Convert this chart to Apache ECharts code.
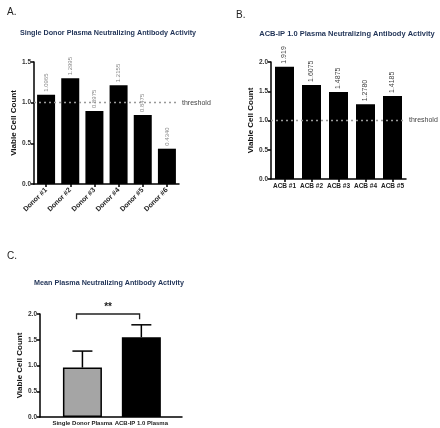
<!DOCTYPE html>
<html><head><meta charset="utf-8">
<script src="https://cdn.jsdelivr.net/npm/echarts@6/dist/echarts.min.js"></script>
<style>html,body{margin:0;padding:0;background:#fff}#c{width:440px;height:428px}</style>
</head><body><div id="c"></div>
<script>
// ---- data ----
const donorCats = ['Donor #1','Donor #2','Donor #3','Donor #4','Donor #5','Donor #6'];
const donorVals = [1.0965, 1.2995, 0.8975, 1.2155, 0.8475, 0.4340];
const donorLabels = ['1.0965','1.2995','0.8975','1.2155','0.8475','0.4340'];
const acbCats = ['ACB #1','ACB #2','ACB #3','ACB #4','ACB #5'];
const acbVals = [1.919, 1.6075, 1.4875, 1.2780, 1.4185];
const acbLabels = ['1.919','1.6075','1.4875','1.2780','1.4185'];
const meanCats = ['Single Donor Plasma','ACB-IP 1.0 Plasma'];
const meanPos = [1, 2];
const meanVals = [0.96, 1.55];
const meanUpper = [1.28, 1.79];
const threshold = 1.0;
const sigText = '**';

const FONT = 'Liberation Sans';
const titleColor = '#1f3256';
const axisLine = {show:true, lineStyle:{color:'#000', width:1.5}};
const axisTick = {show:true, length:3, lineStyle:{color:'#000', width:1.5}};

function yAxis(grid, max, nameGap){
  return {type:'value', gridIndex:grid, min:0, max:max, interval:0.5,
    name:'Viable Cell Count', nameLocation:'middle', nameGap:nameGap,
    nameTextStyle:{fontFamily:FONT, fontWeight:'bold', fontSize:8, color:'#111'},
    axisLine:axisLine, axisTick:axisTick, splitLine:{show:false},
    axisLabel:{fontFamily:FONT, fontWeight:'bold', fontSize:6.5, color:'#333', margin:3,
      formatter:v=>v.toFixed(1)}};
}
function thresholdLine(){
  return {symbol:'none', silent:true,
    lineStyle:{type:[2,3], color:'#999', width:1.3},
    label:{show:true, position:'end', formatter:'threshold', fontFamily:FONT, fontSize:7, color:'#444', distance:3},
    data:[{yAxis:threshold}]};
}

const chart = echarts.init(document.getElementById('c'), null, {renderer:'canvas'});
chart.setOption({
  animation:false,
  title:[
    {text:'A.', left:2, top:2, textStyle:{fontFamily:FONT, fontWeight:'normal', fontSize:10, color:'#222'}},
    {text:'B.', left:231, top:5, textStyle:{fontFamily:FONT, fontWeight:'normal', fontSize:10, color:'#222'}},
    {text:'C.', left:2, top:246, textStyle:{fontFamily:FONT, fontWeight:'normal', fontSize:10, color:'#222'}},
    {text:'Single Donor Plasma Neutralizing Antibody Activity', left:103, top:25, textAlign:'center',
      textStyle:{fontFamily:FONT, fontWeight:'bold', fontSize:7.2, color:titleColor}},
    {text:'ACB-IP 1.0 Plasma Neutralizing Antibody Activity', left:342, top:25, textAlign:'center',
      textStyle:{fontFamily:FONT, fontWeight:'bold', fontSize:7.5, color:titleColor}},
    {text:'Mean Plasma Neutralizing Antibody Activity', left:104, top:275, textAlign:'center',
      textStyle:{fontFamily:FONT, fontWeight:'bold', fontSize:7.2, color:titleColor}}
  ],
  grid:[
    {left:34, right:261, top:62, bottom:244},
    {left:271, right:34, top:62, bottom:249},
    {left:40, right:258, top:314, bottom:11}
  ],
  xAxis:[
    {type:'category', gridIndex:0, data:donorCats, axisLine:axisLine,
      axisTick:Object.assign({alignWithLabel:true}, axisTick),
      axisLabel:{rotate:45, fontFamily:FONT, fontWeight:'bold', fontSize:7, color:'#222', margin:5, interval:0}},
    {type:'category', gridIndex:1, data:acbCats, axisLine:axisLine,
      axisTick:Object.assign({alignWithLabel:true}, axisTick),
      axisLabel:{fontFamily:FONT, fontWeight:'bold', fontSize:6.5, color:'#222', margin:4, interval:0}},
    {type:'value', gridIndex:2, min:0.28, max:2.69, axisLine:axisLine, splitLine:{show:false},
      axisTick:{show:false},
      axisLabel:{customValues:meanPos, fontFamily:FONT, fontWeight:'bold', fontSize:6, color:'#222', margin:3,
        formatter:v=>meanCats[meanPos.indexOf(v)] || ''}}
  ],
  yAxis:[ yAxis(0, 1.5, 13), yAxis(1, 2.0, 16), yAxis(2, 2.0, 14) ],
  series:[
    {type:'bar', xAxisIndex:0, yAxisIndex:0, data:donorVals, barWidth:18,
      itemStyle:{color:'#000'},
      label:{show:true, position:'top', rotate:90, align:'left', verticalAlign:'middle', distance:3,
        fontFamily:FONT, fontSize:6, color:'#888', formatter:p=>donorLabels[p.dataIndex]},
      markLine:thresholdLine()},
    {type:'bar', xAxisIndex:1, yAxisIndex:1, data:acbVals, barWidth:19,
      itemStyle:{color:'#000'},
      label:{show:true, position:'top', rotate:90, align:'left', verticalAlign:'middle', distance:3,
        fontFamily:FONT, fontSize:7, color:'#444', formatter:p=>acbLabels[p.dataIndex]},
      markLine:thresholdLine()},
    {type:'custom', xAxisIndex:2, yAxisIndex:2, z:1,
      data:meanPos.map((x,i)=>[x, meanUpper[i], meanVals[i]]),
      renderItem:(params, api)=>{
        const top = api.coord([api.value(0), api.value(1)]);
        const base = api.coord([api.value(0), api.value(2)]);
        const st = {stroke:'#000', lineWidth:1.5};
        return {type:'group', children:[
          {type:'line', shape:{x1:top[0], y1:top[1], x2:base[0], y2:base[1]}, style:st},
          {type:'line', shape:{x1:top[0]-10, y1:top[1], x2:top[0]+10, y2:top[1]}, style:st}
        ]};
      }},
    {type:'bar', xAxisIndex:2, yAxisIndex:2, barWidth:39, z:2,
      data:meanPos.map((x,i)=>({value:[x, meanVals[i]],
        itemStyle:{color: i===0 ? '#a5a5a5' : '#000', borderColor:'#000', borderWidth:1.5}}))},
    {type:'custom', xAxisIndex:2, yAxisIndex:2, z:3,
      data:[[0.9, 1.97, 2.0, 1.9]],
      renderItem:(params, api)=>{
        const l = api.coord([api.value(0), api.value(2)]);
        const r = api.coord([api.value(1), api.value(2)]);
        const lb = api.coord([api.value(0), api.value(3)]);
        const st = {stroke:'#222', lineWidth:1.3, fill:null};
        return {type:'group', children:[
          {type:'polyline', shape:{points:[[l[0], lb[1]], [l[0], l[1]], [r[0], r[1]], [r[0], lb[1]]]}, style:st},
          {type:'text', style:{text:sigText, x:(l[0]+r[0])/2, y:l[1]-2, align:'center', verticalAlign:'bottom',
            font:'bold 10px '+FONT, fill:'#222'}}
        ]};
      }}
  ]
});
</script></body></html>
